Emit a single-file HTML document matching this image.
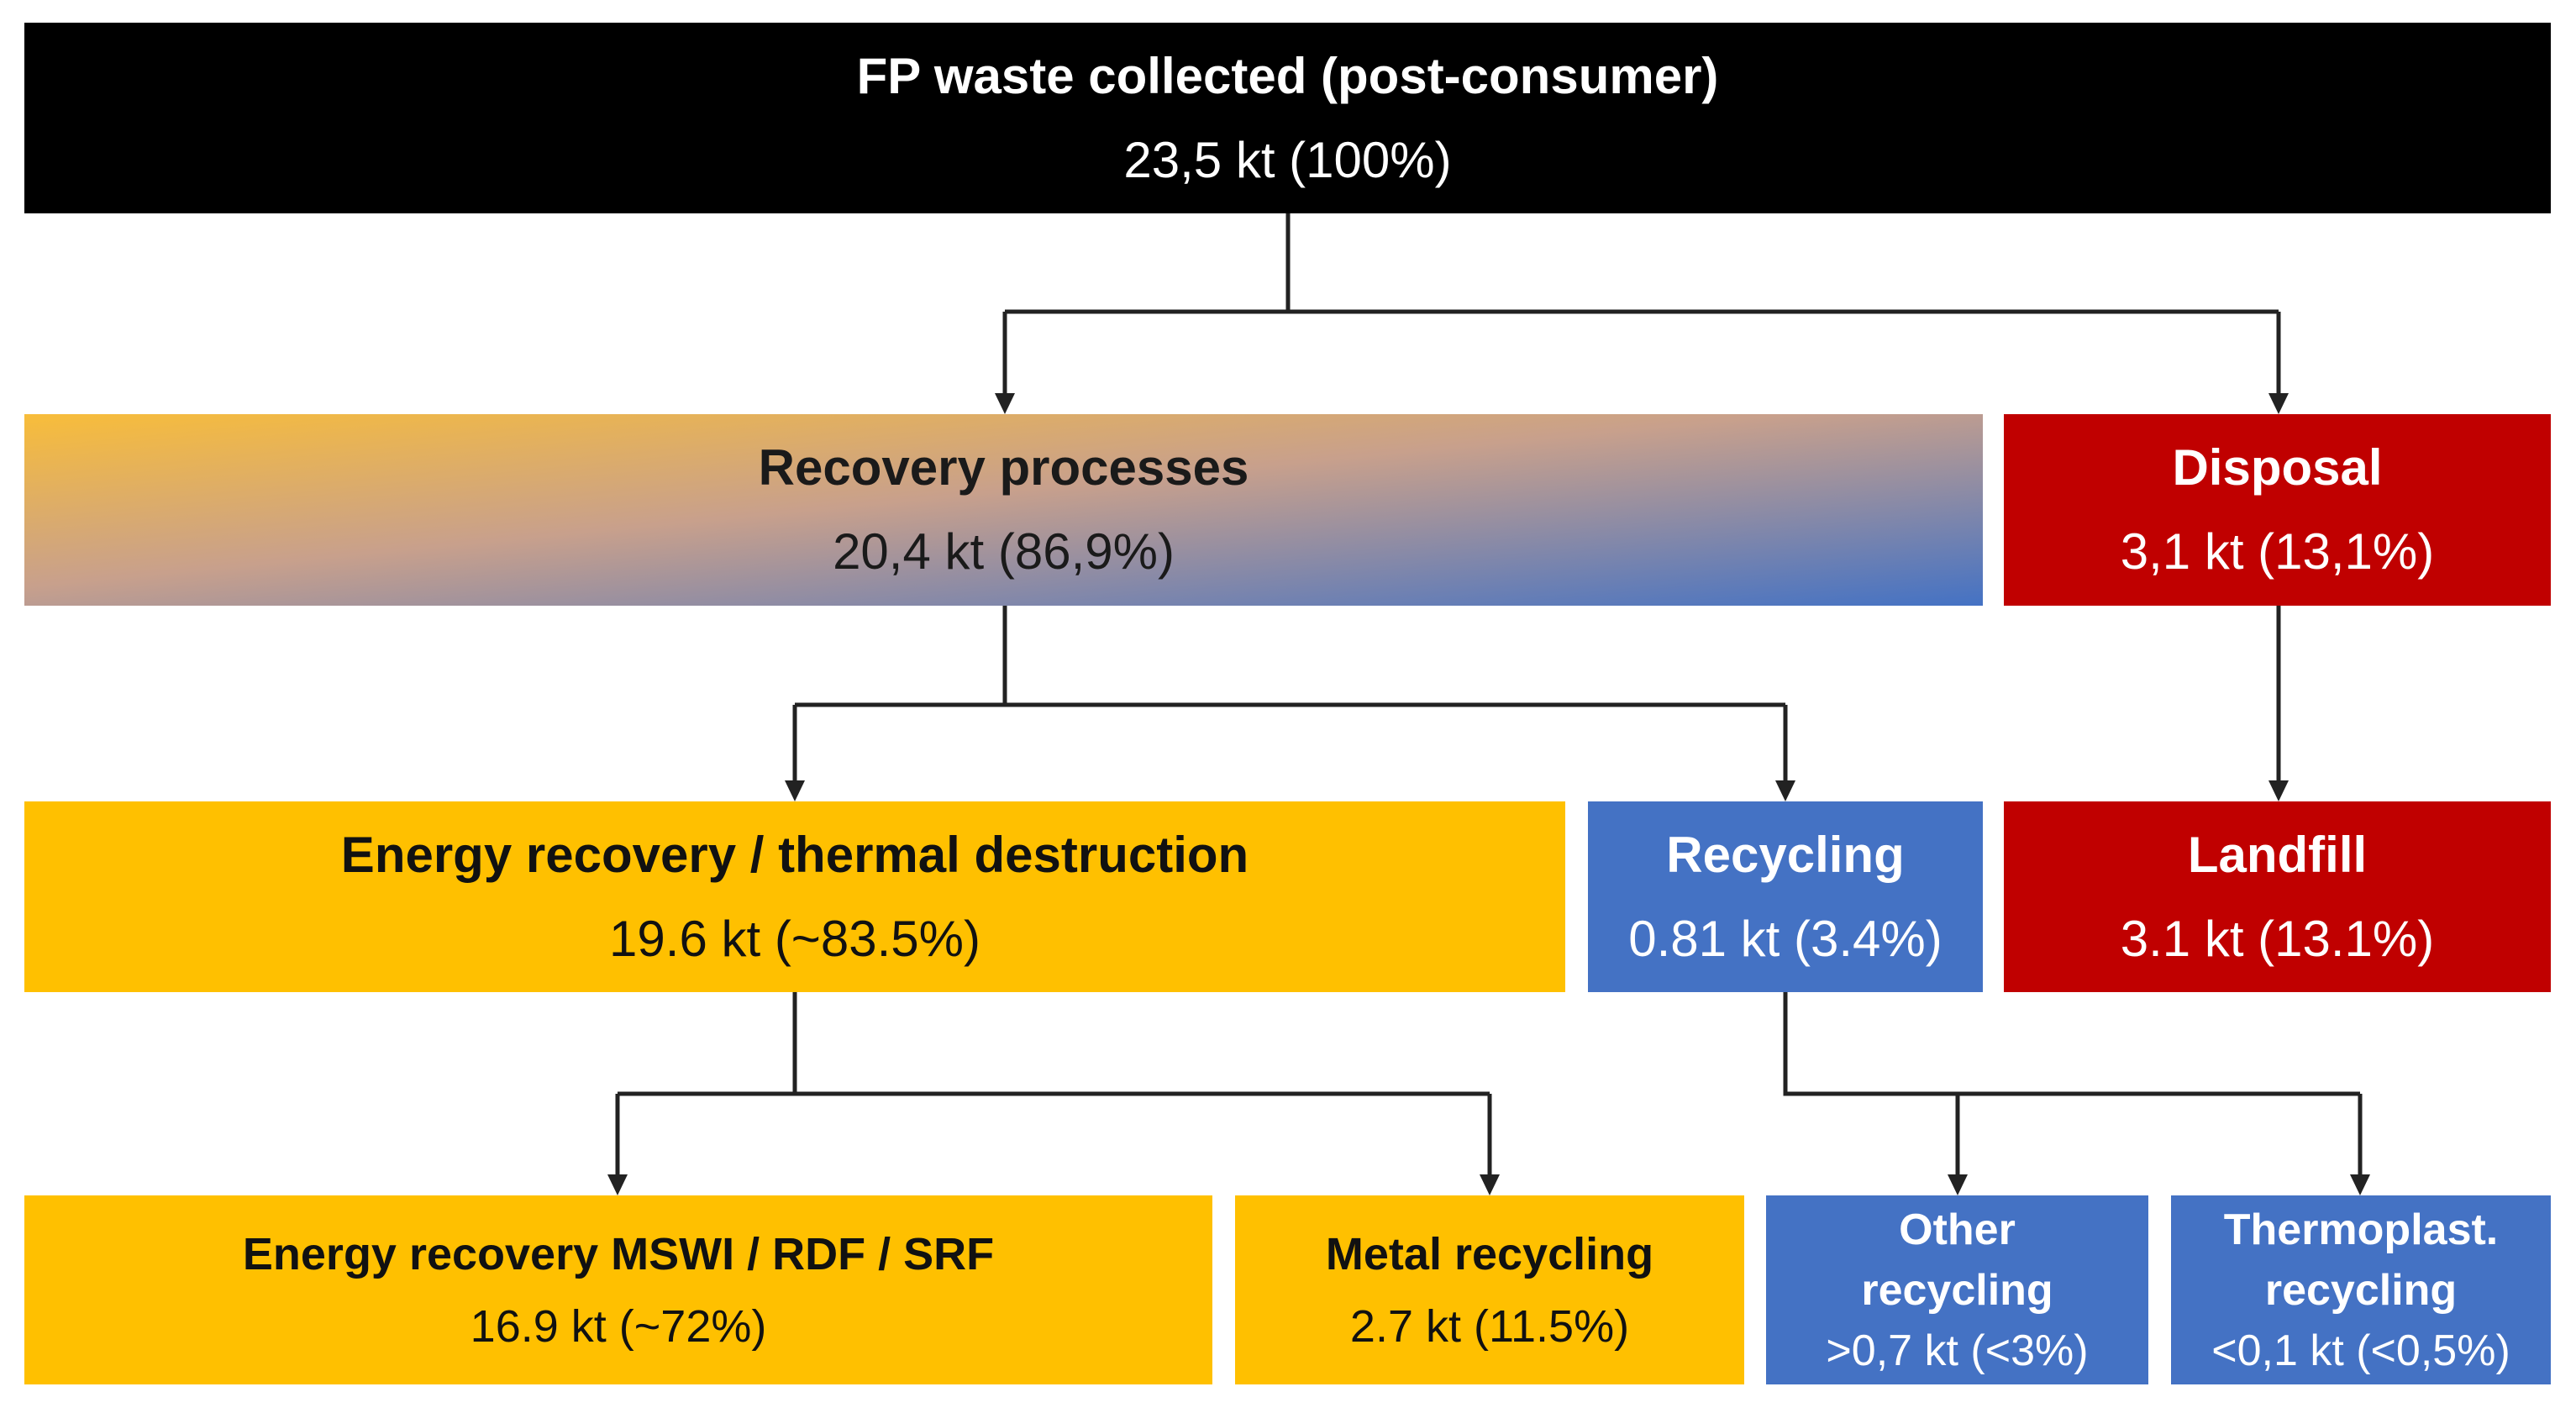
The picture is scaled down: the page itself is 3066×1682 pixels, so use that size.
<!DOCTYPE html>
<html><head><meta charset="utf-8"><style>
body{margin:0;width:3066px;height:1682px;background:#fff;position:relative;overflow:hidden;font-family:"Liberation Sans Narrow","Liberation Sans",sans-serif;}
.b{position:absolute;display:flex;flex-direction:column;align-items:center;justify-content:center;text-align:center;box-sizing:border-box;font-size:60px;line-height:100px;}
.b b{font-weight:bold}
.k{background:#000;color:#fff}
.y{background:#ffc000;color:#111}
.r{background:#c00000;color:#fff}
.u{background:#4472c4;color:#fff}
.s{font-size:54px;line-height:86px}
.t{font-size:52px;line-height:72px}
svg{position:absolute;left:0;top:0}
</style></head><body>
<div class="b k" style="left:29px;top:27px;width:3007px;height:227px"><b>FP waste collected (post-consumer)</b><span>23,5 kt (100%)</span></div>
<div class="b" style="left:29px;top:493px;width:2331px;height:228px;color:#1a1a1a;background:linear-gradient(to bottom right,#f8bd3a,#c8a08c 45%,#4472c4)"><b>Recovery processes</b><span>20,4 kt (86,9%)</span></div>
<div class="b r" style="left:2385px;top:493px;width:651px;height:228px"><b>Disposal</b><span>3,1 kt (13,1%)</span></div>
<div class="b y" style="left:29px;top:954px;width:1834px;height:227px"><b>Energy recovery / thermal destruction</b><span>19.6 kt (~83.5%)</span></div>
<div class="b u" style="left:1890px;top:954px;width:470px;height:227px"><b>Recycling</b><span>0.81 kt (3.4%)</span></div>
<div class="b r" style="left:2385px;top:954px;width:651px;height:227px"><b>Landfill</b><span>3.1 kt (13.1%)</span></div>
<div class="b y s" style="left:29px;top:1423px;width:1414px;height:225px"><b>Energy recovery MSWI / RDF / SRF</b><span>16.9 kt (~72%)</span></div>
<div class="b y s" style="left:1470px;top:1423px;width:606px;height:225px"><b>Metal recycling</b><span>2.7 kt (11.5%)</span></div>
<div class="b u t" style="left:2102px;top:1423px;width:455px;height:225px"><b>Other<br>recycling</b><span>&gt;0,7 kt (&lt;3%)</span></div>
<div class="b u t" style="left:2584px;top:1423px;width:452px;height:225px"><b>Thermoplast.<br>recycling</b><span>&lt;0,1 kt (&lt;0,5%)</span></div>
<svg width="3066" height="1682">
<defs><marker id="a" markerWidth="8" markerHeight="8" refX="4" refY="6" orient="auto" markerUnits="userSpaceOnUse" viewBox="0 0 8 8"></marker></defs>
<g stroke="#222" stroke-width="5" fill="none">
<path d="M1533 254V371M1196 371H2712M1196 371V470M2712 371V470"/>
<path d="M1196 721V839M946 839H2125M946 839V931M2125 839V931"/>
<path d="M2712 721V931"/>
<path d="M946 1181V1302M735 1302H1773M735 1302V1400M1773 1302V1400"/>
<path d="M2125 1181V1302H2809M2330 1302V1400M2809 1302V1400"/>
</g>
<g fill="#222">
<path d="M1184 468h24l-12 25z"/><path d="M2700 468h24l-12 25z"/>
<path d="M934 929h24l-12 25z"/><path d="M2113 929h24l-12 25z"/><path d="M2700 929h24l-12 25z"/>
<path d="M723 1398h24l-12 25z"/><path d="M1761 1398h24l-12 25z"/><path d="M2318 1398h24l-12 25z"/><path d="M2797 1398h24l-12 25z"/>
</g>
</svg>
</body></html>
